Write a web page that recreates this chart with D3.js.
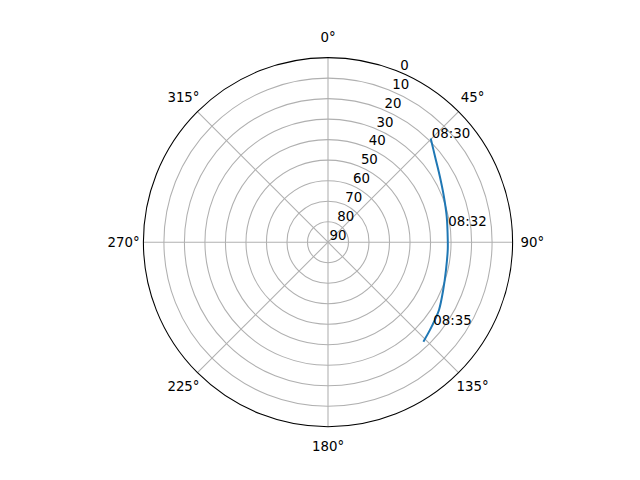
<!DOCTYPE html>
<html>
<head>
<meta charset="utf-8">
<script src="https://cdn.jsdelivr.net/npm/d3@7"></script>
<style>
  body { margin: 0; background: #fff; }
  svg { display: block; font-family: "DejaVu Sans", sans-serif; }
</style>
</head>
<body>
<script>
// satellite pass, azimuth (deg, clockwise from north) and elevation (deg)
const trackAz = [44.7, 51.4, 59.7, 68.6, 77.9, 88.9, 93.7, 103.3, 112.5, 121.4, 126.0, 130.8, 136.2];
const trackEl = [18.8, 23.2, 26.8, 29.3, 30.8, 31.6, 31.5, 30.9, 29.2, 26.6, 25.6, 24.4, 22.8];

const labelTimes = ['08:30', '08:32', '08:35'];
const labelAz = [44.7, 82.5, 128.5];
const labelEl = [18.8, 31.3, 25.0];

const thetaTicks = [0, 45, 90, 135, 180, 225, 270, 315];
const rTicks = [0, 10, 20, 30, 40, 50, 60, 70, 80, 90];

const W = 640, H = 480;
const cx = 328, cy = 242.2, R = 184.6;

const svg = d3.select('body').append('svg')
  .attr('width', W).attr('height', H);

const rScale = d3.scaleLinear().domain([90, 0]).range([0, R]);
const rad = d => d * Math.PI / 180;
const px = (az, r) => cx + r * Math.sin(rad(az));
const py = (az, r) => cy - r * Math.cos(rad(az));

const g = svg.append('g');

// grid circles
g.selectAll('circle.grid')
  .data(rTicks.filter(d => d > 0 && d < 90))
  .join('circle')
  .attr('class', 'grid')
  .attr('cx', cx).attr('cy', cy)
  .attr('r', d => rScale(d))
  .attr('fill', 'none')
  .attr('stroke', '#b0b0b0')
  .attr('stroke-width', 1.07);

// spokes
g.selectAll('line.spoke')
  .data(thetaTicks)
  .join('line')
  .attr('class', 'spoke')
  .attr('x1', cx).attr('y1', cy)
  .attr('x2', d => px(d, R)).attr('y2', d => py(d, R))
  .attr('stroke', '#b0b0b0')
  .attr('stroke-width', 1.07);

// outer spine
g.append('circle')
  .attr('cx', cx).attr('cy', cy).attr('r', R)
  .attr('fill', 'none')
  .attr('stroke', '#000')
  .attr('stroke-width', 1.07);

// angle labels
g.selectAll('text.theta')
  .data(thetaTicks)
  .join('text')
  .attr('class', 'theta')
  .attr('x', d => px(d, R + 19.8))
  .attr('y', d => py(d, R + 19.8))
  .attr('text-anchor', 'middle')
  .attr('dominant-baseline', 'central')
  .attr('font-size', '13.33px')
  .text(d => d + '°');

// radial labels at 22.5 deg
g.selectAll('text.rlab')
  .data(rTicks)
  .join('text')
  .attr('class', 'rlab')
  .attr('x', d => px(22.5, rScale(d)) + 1.5)
  .attr('y', d => py(22.5, rScale(d)) - 2)
  .attr('text-anchor', 'start')
  .attr('font-size', '13.33px')
  .text(d => d);

// track
const pts = trackAz.map((a, i) => [rad(a), rScale(trackEl[i])]);
const line = d3.lineRadial().curve(d3.curveCatmullRom);
g.append('path')
  .attr('transform', `translate(${cx},${cy})`)
  .attr('d', line(pts))
  .attr('fill', 'none')
  .attr('stroke', '#1f77b4')
  .attr('stroke-width', 2);

// time labels
g.selectAll('text.time')
  .data(labelTimes)
  .join('text')
  .attr('class', 'time')
  .attr('x', (d, i) => px(labelAz[i], rScale(labelEl[i])) + 1)
  .attr('y', (d, i) => py(labelAz[i], rScale(labelEl[i])))
  .attr('font-size', '13.33px')
  .text(d => d);
</script>
</body>
</html>
